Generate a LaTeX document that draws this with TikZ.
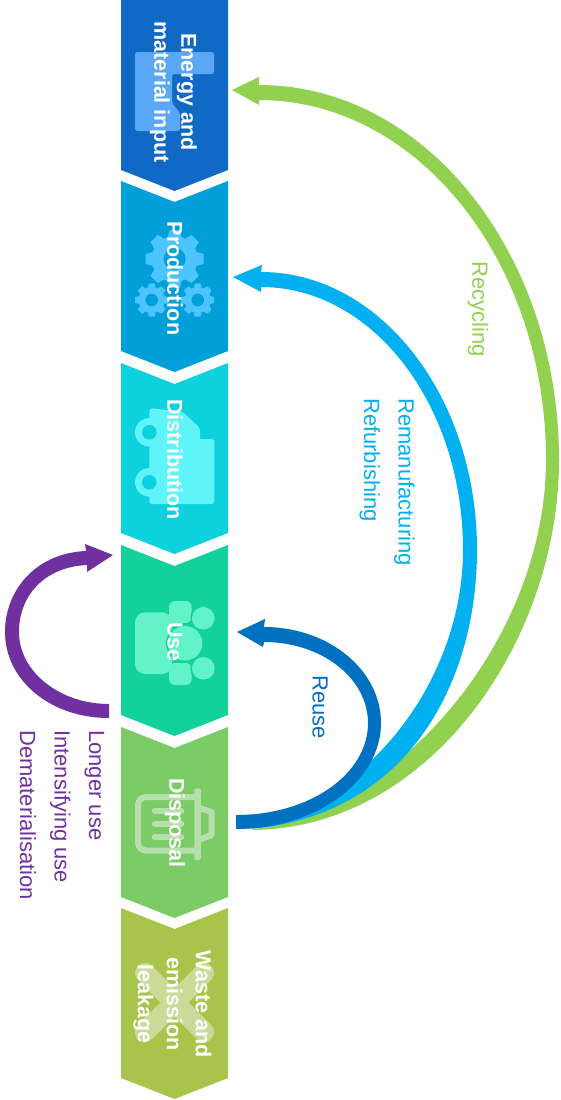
\documentclass[tikz,border=0pt]{standalone}
\usepackage{fontspec}
\setmainfont{Liberation Sans}
\usetikzlibrary{positioning}
\definecolor{energycol}{HTML}{1169C6}
\definecolor{productioncol}{HTML}{009FD9}
\definecolor{distributioncol}{HTML}{0DD1DC}
\definecolor{usecol}{HTML}{12D19A}
\definecolor{disposalcol}{HTML}{7BCB66}
\definecolor{wastecol}{HTML}{A9C44B}
\definecolor{energyicon}{HTML}{5AA8F5}
\definecolor{productionicon}{HTML}{4BC4FF}
\definecolor{distributionicon}{HTML}{5FF4FA}
\definecolor{useicon}{HTML}{62F4C8}
\definecolor{disposalicon}{HTML}{B6E0AA}
\definecolor{wasteicon}{HTML}{CBDB97}
\definecolor{recyclingcol}{HTML}{92D050}
\definecolor{remanucol}{HTML}{00B0F0}
\definecolor{reusecol}{HTML}{0070C0}
\definecolor{longercol}{HTML}{7030A0}
\tikzset{
    stage/.style={
        rotate=-90, align=center, text=white, inner sep=0pt,
        font=\fontsize{21.5}{27}\selectfont\bfseries
    },
    looptext/.style={
        rotate=-90, align=left, anchor=west, inner sep=0pt,
        font=\fontsize{22}{34.5}\selectfont
    },
    gear/.pic={
        \foreach \a in {0,45,...,315} {
            \fill[productionicon, rotate=\a] (-7,-22) -- (7,-22) -- (5,-29) -- (-5,-29) -- cycle;
        }
        \fill[productionicon] (0,0) circle (23pt);
        \fill[productioncol] (0,0) circle (11pt);
    }
}

\begin{document}
\begin{tikzpicture}[x=1pt, y=-1pt]
        \useasboundingbox (0,0) rectangle (561,1100);

        % Chevrons

        \fill[energycol] (121,0) -- (228,0) -- (228,170) -- (174.5,191) -- (121,170) -- cycle;
        \foreach \top/\col in {181/productioncol, 363/distributioncol, 545/usecol, 727/disposalcol, 908/wastecol} {
            \fill[\col] (121,\top) -- (174.5,\top+21) -- (228,\top) -- (228,\top+170) -- (174.5,\top+191) -- (121,\top+170) -- cycle;
        }

        % Icons

        \fill[energyicon, rounded corners=2.5pt] (135,52) -- (214,52) -- (214,74) -- (172,74) -- (172,103) -- (180,113) -- (180,131) -- (135,131) -- cycle;

        \pic at (174.7,259) {gear};
        \pic[scale=0.57] at (151.7,300) {gear};
        \pic[scale=0.57] at (197.7,300) {gear};

        \fill[distributionicon, rounded corners=2.5pt] (149.3,439) rectangle (214.3,504);
        \fill[distributionicon, rounded corners=3pt] (149.3,408) -- (183,412) -- (200,428) -- (200,445) -- (149.3,445) -- cycle;
        \foreach \y in {432.3, 482.3} {
            \fill[distributionicon] (149.3,\y) circle (14.3pt);
            \fill[distributioncol] (149.3,\y) circle (7.3pt);
        }

        \fill[useicon, rounded corners=10pt] (135,612.3) rectangle (172,674);
        \fill[useicon, rounded corners=6pt] (169,601) rectangle (191.7,623);
        \fill[useicon, rounded corners=6pt] (169,663) rectangle (191.7,685);
        \fill[usecol] (185,643.3) circle (19pt);
        \fill[usecol] (203.3,618.3) circle (13pt);
        \fill[usecol] (203.3,668.3) circle (13pt);
        \fill[useicon] (185,643.3) circle (17.3pt);
        \fill[useicon] (203.3,618.3) circle (11.3pt);
        \fill[useicon] (203.3,668.3) circle (11.3pt);

        \draw[disposalicon, line width=6pt, rounded corners=8pt] (197,797) -- (138,797) -- (138,850.5) -- (197,850.5);
        \fill[disposalicon, rounded corners=2pt] (194.3,788.3) rectangle (201,860);
        \draw[disposalicon, line width=6pt, line join=round] (199,808) -- (211.5,812) -- (211.5,835) -- (199,840);
        \foreach \y in {810.7, 824, 837.3} {
            \draw[disposalicon, line width=6pt, line cap=round] (154.7,\y) -- (181.3,\y);
        }

        \draw[wasteicon, line width=20pt, line cap=round] (145,973) -- (204,1032);
        \draw[wasteicon, line width=20pt, line cap=round] (145,1032) -- (204,973);

        % Stage labels

        \node[stage] (energy)       at (173.5,92)  {Energy and\\material input};
        \node[stage] (production)   at (175,278.5) {Production};
        \node[stage] (distribution) at (175,459.5) {Distribution};
        \node[stage] (use)          at (175,642)   {Use};
        \node[stage] (disposal)     at (175,823)   {Disposal};
        \node[stage] (waste)        at (172.5,1004) {Waste and\\[2pt]emission\\[2pt]leakage};

        % Loops

        \coordinate (recyclingtip)  at (232,90);
        \coordinate (recyclingtail) at (250,830);
        \coordinate (remanutip)     at (233,277);
        \coordinate (remanutail)    at (250,829);
        \coordinate (reusetip)      at (237,632);
        \coordinate (longertip)     at (113,555);

        \fill[recyclingcol] (recyclingtail) .. controls (430,830) and (559,640) .. (559,460)
            .. controls (559,253) and (425,85) .. (259,85) -- (259,77) -- (recyclingtip) -- (259,105) -- (259,100)
            .. controls (417.5,100) and (546,261) .. (546,460)
            .. controls (546,630) and (410,805) .. (recyclingtail) -- cycle;

        \fill[remanucol] (remanutail) .. controls (410,815) and (477,680) .. (477,550)
            .. controls (477,396.5) and (380,272) .. (261,272) -- (262,265) -- (remanutip) -- (261,292) -- (261,287)
            .. controls (372.6,287) and (463,404.7) .. (463,550)
            .. controls (463,670) and (380,795) .. (remanutail) -- cycle;

        \fill[reusecol] (236,829) .. controls (316,829) and (381,781) .. (381,723)
            .. controls (381,670) and (328.6,627) .. (264,627) -- (265,619) -- (reusetip) -- (263,647) -- (264,642)
            .. controls (321.4,642) and (368,678) .. (368,723)
            .. controls (368,774) and (310,815) .. (236,815) -- cycle;

        \fill[longercol] (109,718) .. controls (50,718) and (5,680) .. (5,632)
            .. controls (5,590) and (36,553) .. (86,551) -- (85,544) -- (longertip) -- (87,572) -- (87,565)
            .. controls (44,567) and (19,596) .. (19,632)
            .. controls (19,672) and (60,704) .. (109,704) -- cycle;

        % Loop labels

        \node[looptext, text=recyclingcol] (recycling) at (478,261) {Recycling};
        \node[looptext, text=remanucol]    (remanu)    at (387,398) {Remanufacturing\\Refurbishing};
        \node[looptext, text=reusecol]     (reuse)     at (320,675) {Reuse};
        \node[looptext, text=longercol]    (longer)    at (62,730)  {Longer use\\Intensifying use\\Dematerialisation};
    \end{tikzpicture}
\end{document}
